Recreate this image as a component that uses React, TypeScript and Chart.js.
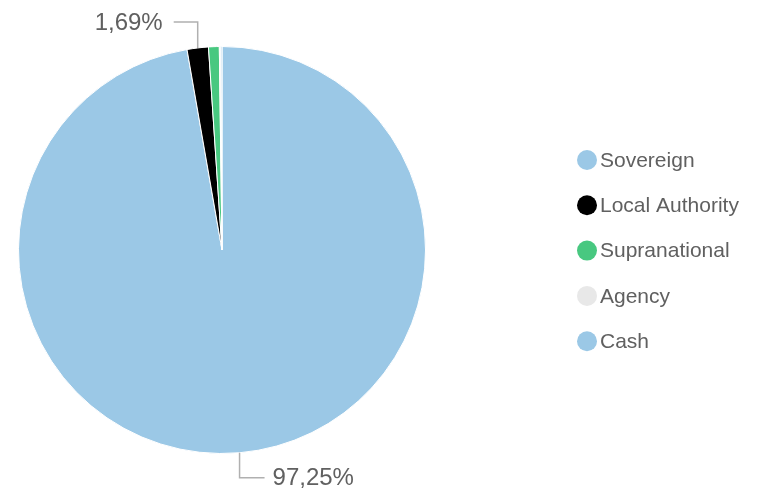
import React, { useEffect, useRef } from "react";
import { Chart, registerables } from "chart.js";

Chart.register(...registerables);

const categories = ["Sovereign", "Local Authority", "Supranational", "Agency", "Cash"];
const shares = [97.25, 1.69, 0.85, 0.12, 0.09];
const colors = ["#9bc8e6", "#000000", "#48c880", "#e8e8e8", "#9bc8e6"];
const labelledIndexes = [0, 1];

const FONT = "'Liberation Sans', Arial, sans-serif";

const fmt = (v: number) => v.toFixed(2).replace(".", ",") + "%";

const labelPlugin = {
  id: "pieLabels",
  afterDatasetsDraw(chart: any) {
    const ctx = chart.ctx;
    const meta = chart.getDatasetMeta(0);
    const values = chart.data.datasets[0].data as number[];
    ctx.save();
    labelledIndexes.forEach((i) => {
      const arc = meta.data[i] as any;
      const { x, y, startAngle, endAngle, outerRadius } = arc.getProps(
        ["x", "y", "startAngle", "endAngle", "outerRadius"],
        true
      );
      const mid = (startAngle + endAngle) / 2;
      const ex = x + Math.cos(mid) * outerRadius;
      const ey = y + Math.sin(mid) * outerRadius;
      const top = ey < y;
      const right = ex >= x;
      const ay = top ? ey - 26 : ey + 25;
      const hx = right ? ex + 25 : ex - 24;
      ctx.strokeStyle = "#b0b0b0";
      ctx.lineWidth = 1.5;
      ctx.beginPath();
      ctx.moveTo(ex, ey);
      ctx.lineTo(ex, ay);
      ctx.lineTo(hx, ay);
      ctx.stroke();
      ctx.fillStyle = "#606060";
      ctx.font = `24px ${FONT}`;
      ctx.textBaseline = "middle";
      ctx.textAlign = right ? "left" : "right";
      ctx.fillText(fmt(values[i]), right ? hx + 8 : hx - 11, ay + 1);
    });
    ctx.restore();
  },
};

const legendPlugin = {
  id: "sideLegend",
  afterDraw(chart: any) {
    const ctx = chart.ctx;
    const labels = chart.data.labels as string[];
    const bg = chart.data.datasets[0].backgroundColor as string[];
    const lx = 587;
    const ly0 = 160;
    const step = 45.3;
    ctx.save();
    ctx.font = `21px ${FONT}`;
    ctx.textBaseline = "middle";
    ctx.textAlign = "left";
    labels.forEach((lab, i) => {
      const cy = ly0 + i * step;
      ctx.fillStyle = bg[i];
      ctx.beginPath();
      ctx.arc(lx, cy, 10, 0, Math.PI * 2);
      ctx.fill();
      ctx.fillStyle = "#606060";
      ctx.fillText(lab, lx + 13, cy + 1);
    });
    ctx.restore();
  },
};

export default function App() {
  const ref = useRef<HTMLCanvasElement | null>(null);
  useEffect(() => {
    if (!ref.current) return;
    const chart = new Chart(ref.current, {
      type: "pie",
      data: {
        labels: categories,
        datasets: [
          {
            data: shares,
            backgroundColor: colors,
            borderColor: "#ffffff",
            borderWidth: 1,
          },
        ],
      },
      options: {
        animation: false,
        responsive: false,
        layout: { padding: { left: 18, top: 46, bottom: 44, right: 338 } },
        plugins: {
          legend: { display: false },
          tooltip: { enabled: false },
        },
      },
      plugins: [labelPlugin, legendPlugin],
    });
    return () => chart.destroy();
  }, []);
  return (
    <div style={{ position: "fixed", left: 0, top: 0, width: 764, height: 498, background: "#fff" }}>
      <canvas ref={ref} width={764} height={498} style={{ width: 764, height: 498 }} />
    </div>
  );
}
